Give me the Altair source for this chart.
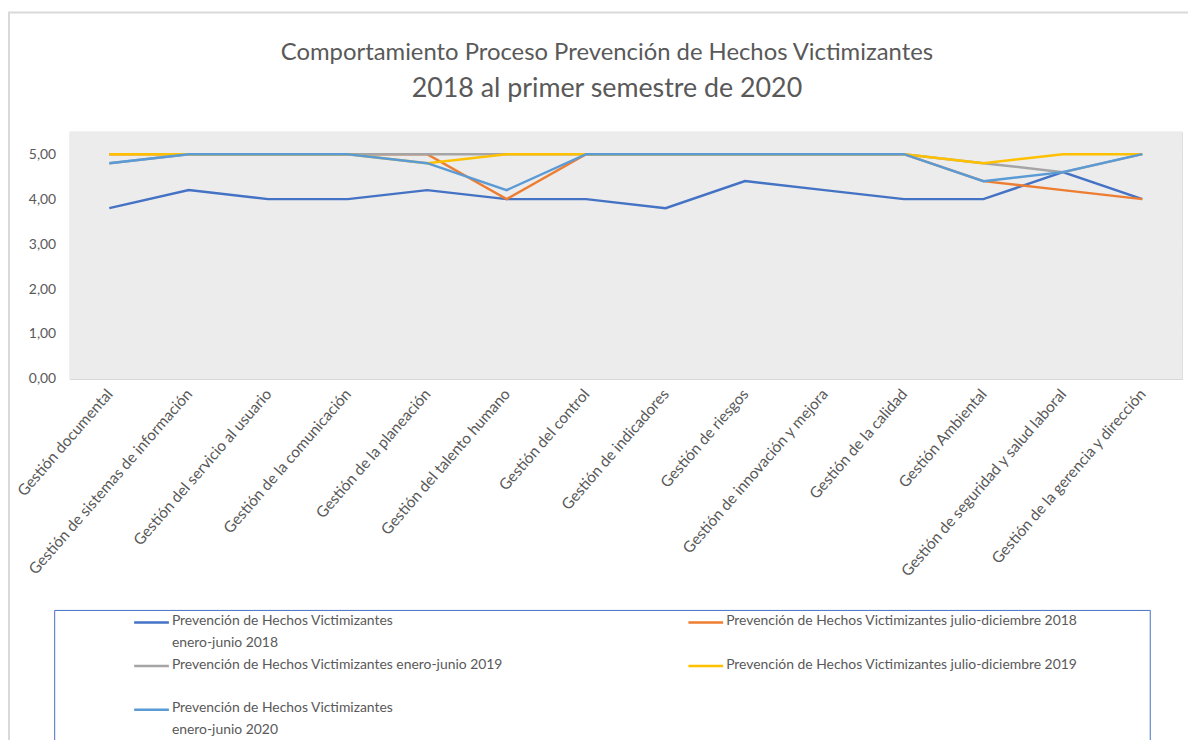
import altair as alt
import pandas as pd

categories = [
    "Gestión documental",
    "Gestión de sistemas de información",
    "Gestión del servicio al usuario",
    "Gestión de la comunicación",
    "Gestión de la planeación",
    "Gestión del talento humano",
    "Gestión del control",
    "Gestión de indicadores",
    "Gestión de riesgos",
    "Gestión de innovación y mejora",
    "Gestión de la calidad",
    "Gestión Ambiental",
    "Gestión de seguridad y salud laboral",
    "Gestión de la gerencia y dirección",
]

series_names = [
    "Prevención de Hechos Victimizantes enero-junio 2018",
    "Prevención de Hechos Victimizantes julio-diciembre 2018",
    "Prevención de Hechos Victimizantes enero-junio 2019",
    "Prevención de Hechos Victimizantes julio-diciembre 2019",
    "Prevención de Hechos Victimizantes enero-junio 2020",
]

ene_jun_2018 = [3.8, 4.2, 4.0, 4.0, 4.2, 4.0, 4.0, 3.8, 4.4, 4.2, 4.0, 4.0, 4.6, 4.0]
jul_dic_2018 = [5.0, 5.0, 5.0, 5.0, 5.0, 4.0, 5.0, 5.0, 5.0, 5.0, 5.0, 4.4, 4.2, 4.0]
ene_jun_2019 = [4.8, 5.0, 5.0, 5.0, 5.0, 5.0, 5.0, 5.0, 5.0, 5.0, 5.0, 4.8, 4.6, 5.0]
jul_dic_2019 = [5.0, 5.0, 5.0, 5.0, 4.8, 5.0, 5.0, 5.0, 5.0, 5.0, 5.0, 4.8, 5.0, 5.0]
ene_jun_2020 = [4.8, 5.0, 5.0, 5.0, 4.8, 4.2, 5.0, 5.0, 5.0, 5.0, 5.0, 4.4, 4.6, 5.0]

series_values = [ene_jun_2018, jul_dic_2018, ene_jun_2019, jul_dic_2019, ene_jun_2020]
colors = ["#4472C4", "#ED7D31", "#A5A5A5", "#FFC000", "#5B9BD5"]

rows = []
for si, (name, vals) in enumerate(zip(series_names, series_values)):
    for ci, (cat, v) in enumerate(zip(categories, vals)):
        rows.append({"proceso": cat, "serie": name, "valor": v, "orden": si})
df = pd.DataFrame(rows)

FONT = "Lato"
GRAY = "#595959"

legend_expr = (
    "(indexof(datum.label, 'enero-junio 2019') >= 0 || indexof(datum.label, 'julio') >= 0)"
    " ? [datum.label, ' '] : ['Prevención de Hechos Victimizantes', slice(datum.label, 35)]"
)

background = alt.Chart(alt.Data(values=[{"b": 0}])).mark_rect(
    fill="#ececec"
).encode(x=alt.value(0), x2=alt.value(1120), y=alt.value(0), y2=alt.value(249))

grid_layer = alt.Chart(alt.Data(values=[{"g": 0}])).mark_point(opacity=0).encode(
    x=alt.X(
        "g:Q",
        scale=alt.Scale(domain=[0, 28], nice=False),
        axis=alt.Axis(
            title=None,
            orient="top",
            values=list(range(1, 28)),
            labels=False,
            ticks=False,
            domain=False,
            grid=True,
            gridColor="#d9d9d9",
        ),
    ),
)

lines = alt.Chart(df).mark_line(strokeWidth=2.5).encode(
    x=alt.X(
        "proceso:N",
        sort=categories,
        scale=alt.Scale(type="point", padding=0.5),
        axis=alt.Axis(
            title=None,
            orient="bottom",
            labelAngle=-49,
            labelAlign="right",
            labelBaseline="middle",
            labelPadding=12,
            labelFontSize=15.5,
            labelFont=FONT,
            labelColor=GRAY,
            labelLimit=400,
            ticks=False,
            domain=True,
            domainColor="#d9d9d9",
            grid=False,
        ),
    ),
    y=alt.Y(
        "valor:Q",
        scale=alt.Scale(domain=[0, 5.5], nice=False),
        axis=alt.Axis(
            title=None,
            values=[0, 1, 2, 3, 4, 5],
            format=".2f",
            labelExpr="replace(datum.label, '.', ',')",
            labelFontSize=14,
            labelFont=FONT,
            labelColor=GRAY,
            labelPadding=14,
            ticks=False,
            domain=False,
            grid=True,
            gridColor="#d9d9d9",
        ),
    ),
    color=alt.Color(
        "serie:N",
        scale=alt.Scale(domain=series_names, range=colors),
        legend=alt.Legend(
            title=None,
            orient="none",
            legendX=75,
            legendY=478,
            direction="horizontal",
            columns=2,
            columnPadding=181,
            rowPadding=0,
            symbolType="M-3,1.45H3",
            symbolSize=136,
            symbolStrokeWidth=2.5,
            labelExpr=legend_expr,
            labelFont=FONT,
            labelFontSize=14,
            labelColor=GRAY,
            labelLimit=600,
            labelOffset=13,
            labelBaseline="top",
        ),
    ),
    order=alt.Order("orden:Q"),
    detail="serie:N",
)

legend_box = alt.Chart(alt.Data(values=[{"b": 0}])).mark_rect(
    filled=False, stroke="#4472C4", strokeWidth=1
).encode(
    x=alt.value(-15), x2=alt.value(1088), y=alt.value(482), y2=alt.value(660)
)

outer_box = alt.Chart(alt.Data(values=[{"b": 0}])).mark_rect(
    filled=False, stroke="#d9d9d9", strokeWidth=2
).encode(
    x=alt.value(-61), x2=alt.value(1140), y=alt.value(-120), y2=alt.value(660)
)

chart = (
    alt.layer(background, grid_layer, lines, legend_box, outer_box)
    .resolve_scale(x="independent")
    .properties(
        width=1120,
        height=249,
        padding={"left": 62, "top": 122, "right": 6, "bottom": 370},
        autosize=alt.AutoSizeParams(type="none"),
        title=alt.TitleParams(
            text="Comportamiento Proceso Prevención de Hechos Victimizantes",
            subtitle="2018 al primer semestre de 2020",
            anchor="middle",
            dx=-19,
            offset=-91,
            font=FONT,
            fontSize=24,
            fontWeight="normal",
            color=GRAY,
            subtitleFont=FONT,
            subtitleFontSize=27,
            subtitleColor=GRAY,
            subtitlePadding=11,
        ),
    )
    .configure_view(stroke=None)
    .configure(background="white", style={"guide-label": {"lineHeight": 22}})
)

chart.save("out.html", embed_options={"renderer": "svg", "actions": False})
